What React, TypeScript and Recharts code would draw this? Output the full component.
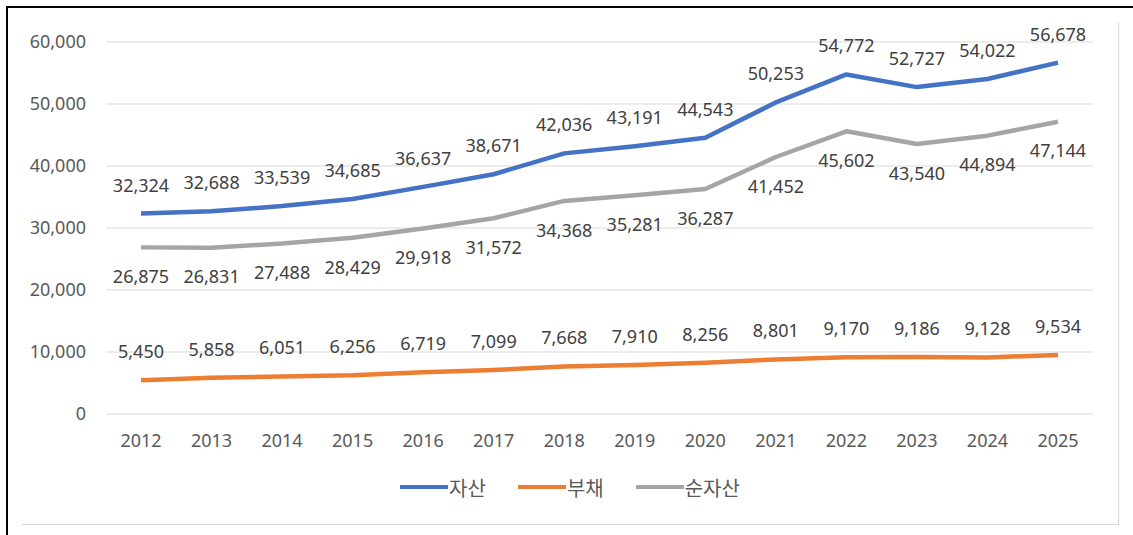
import { LineChart, Line, CartesianGrid, XAxis, YAxis, LabelList } from 'recharts';

const years = ['2012', '2013', '2014', '2015', '2016', '2017', '2018', '2019', '2020', '2021', '2022', '2023', '2024', '2025'];
const assets = [32324, 32688, 33539, 34685, 36637, 38671, 42036, 43191, 44543, 50253, 54772, 52727, 54022, 56678];
const debts = [5450, 5858, 6051, 6256, 6719, 7099, 7668, 7910, 8256, 8801, 9170, 9186, 9128, 9534];
const netAssets = [26875, 26831, 27488, 28429, 29918, 31572, 34368, 35281, 36287, 41452, 45602, 43540, 44894, 47144];
const yTicks = [0, 10000, 20000, 30000, 40000, 50000, 60000];

const series = [
  { key: 'asset', name: '자산', color: '#4472C4', labelPos: 'top' },
  { key: 'debt', name: '부채', color: '#ED7D31', labelPos: 'top' },
  { key: 'net', name: '순자산', color: '#A5A5A5', labelPos: 'bottom' }
];

const data = years.map((year, i) => ({
  year,
  asset: assets[i],
  debt: debts[i],
  net: netAssets[i]
}));

const fmt = (v: number) => v.toLocaleString('en-US');
const font = '"Noto Sans", "Noto Sans CJK KR", sans-serif';

export default function App() {
  return (
    <div style={page}>
      <div style={frame} />
      <div style={box}>
        <LineChart width={1096} height={502} data={data} margin={{ top: 20, right: 25, bottom: 70, left: 0 }}>
          <CartesianGrid stroke="#D9D9D9" vertical={false} />
          <XAxis
            dataKey="year"
            axisLine={false}
            tickLine={false}
            tickSize={0}
            tickMargin={20}
            height={40}
            padding={{ left: 35, right: 35 }}
            tick={{ fill: '#595959', fontSize: 18, fontFamily: font }}
          />
          <YAxis
            domain={[0, 60000]}
            ticks={yTicks}
            width={84}
            axisLine={false}
            tickLine={false}
            tickSize={0}
            tickMargin={20}
            tickFormatter={fmt}
            tick={{ fill: '#595959', fontSize: 18, fontFamily: font }}
          />
          {series.map(s => (
            <Line
              key={s.key}
              dataKey={s.key}
              name={s.name}
              type="linear"
              stroke={s.color}
              strokeWidth={4.5}
              strokeLinejoin="round"
              dot={false}
              activeDot={false}
              isAnimationActive={false}
            >
              <LabelList
                dataKey={s.key}
                position={s.labelPos as 'top' | 'bottom'}
                offset={s.labelPos === 'top' ? 22 : 23}
                formatter={(v: any) => fmt(Number(v))}
                style={{ fill: '#404040', fontSize: 18, fontFamily: font }}
              />
            </Line>
          ))}
        </LineChart>
        <div style={legend}>
          {series.map(s => (
            <div key={s.key} style={{ display: 'flex', alignItems: 'center', margin: '0 16px' }}>
              <span style={{ width: 48, height: 4.5, background: s.color, display: 'inline-block' }} />
              <span style={{ color: '#595959', fontSize: 20, fontFamily: font, marginLeft: 1 }}>{s.name}</span>
            </div>
          ))}
        </div>
      </div>
    </div>
  );
}

const page = {
  position: 'absolute' as const,
  left: 0,
  top: 0,
  width: 1133,
  height: 535,
  background: '#fff',
  overflow: 'hidden' as const
};

const frame = {
  position: 'absolute' as const,
  left: 6,
  top: 6,
  width: 1140,
  height: 540,
  borderTop: '2px solid #000',
  borderLeft: '2px solid #000'
};

const box = {
  position: 'absolute' as const,
  left: 22,
  top: 22,
  width: 1096,
  height: 502,
  borderRight: '1px solid #D9D9D9',
  borderBottom: '1px solid #D9D9D9'
};

const legend = {
  position: 'absolute' as const,
  left: 0,
  top: 452,
  width: 1096,
  height: 26,
  display: 'flex',
  justifyContent: 'center',
  alignItems: 'center'
};
